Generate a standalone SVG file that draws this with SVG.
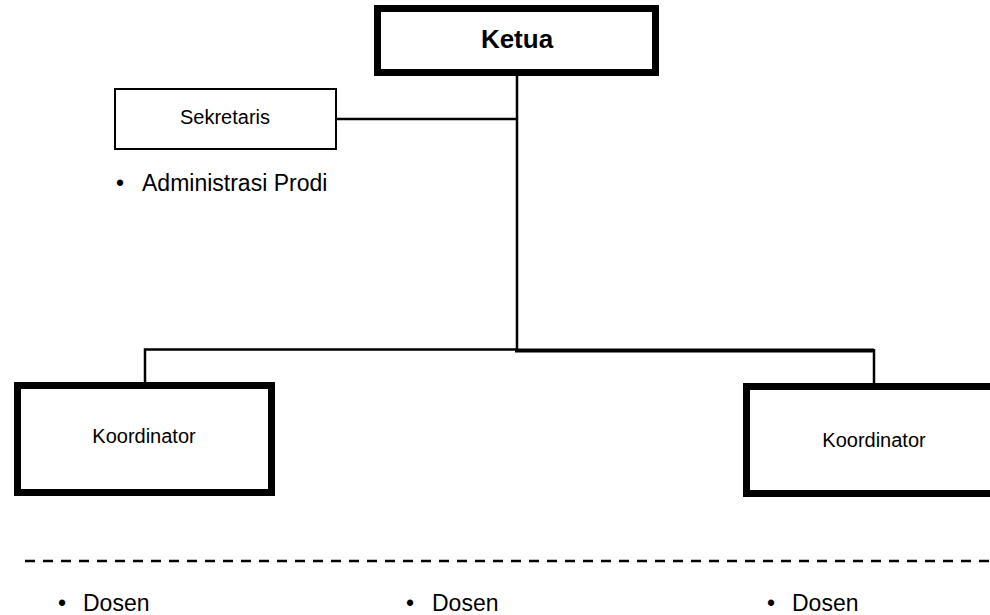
<svg xmlns="http://www.w3.org/2000/svg" width="990" height="615" viewBox="0 0 990 615">
<style>
text{font-family:"Liberation Sans",Arial,sans-serif;fill:#000}
.thick{fill:#fff;stroke:#000;stroke-width:7}
.thin{fill:#fff;stroke:#000;stroke-width:2}
.conn{fill:none;stroke:#000;stroke-width:2.5}
.lbl{font-size:20px;text-anchor:middle}
.item{font-size:23px}
</style>
<rect width="990" height="615" fill="#fff"/>
<g id="connectors">
<line class="conn" x1="517" y1="76" x2="517" y2="351"/>
<line class="conn" x1="336" y1="119" x2="517" y2="119"/>
<polyline class="conn" points="517,349.5 145,349.5 145,383"/>
<polyline class="conn" style="stroke-width:4" points="515,350.5 874,350.5"/>
<line class="conn" x1="874" y1="349" x2="874" y2="384"/>
</g>
<g id="ketua">
<rect class="thick" x="377.5" y="8.5" width="278" height="64"/>
<text x="517" y="48" font-size="26" font-weight="bold" text-anchor="middle">Ketua</text>
</g>
<g id="sekretaris">
<rect class="thin" x="115" y="89" width="221" height="60"/>
<text class="lbl" x="225" y="124">Sekretaris</text>
<text class="item" y="191"><tspan x="116">•</tspan><tspan x="142">Administrasi Prodi</tspan></text>
</g>
<g id="koordinator-kiri">
<rect class="thick" x="17.5" y="385.5" width="254" height="107"/>
<text class="lbl" x="144" y="443">Koordinator</text>
</g>
<g id="koordinator-kanan">
<rect class="thick" x="746.5" y="386.5" width="300" height="107"/>
<text class="lbl" x="874" y="447">Koordinator</text>
</g>
<g id="pemisah">
<line x1="25" y1="561" x2="990" y2="561" stroke="#000" stroke-width="2.5" stroke-dasharray="10 8"/>
</g>
<g id="dosen">
<text class="item" y="611"><tspan x="58">•</tspan><tspan x="83">Dosen</tspan></text>
<text class="item" y="611"><tspan x="406">•</tspan><tspan x="432">Dosen</tspan></text>
<text class="item" y="611"><tspan x="767">•</tspan><tspan x="792">Dosen</tspan></text>
</g>
</svg>
